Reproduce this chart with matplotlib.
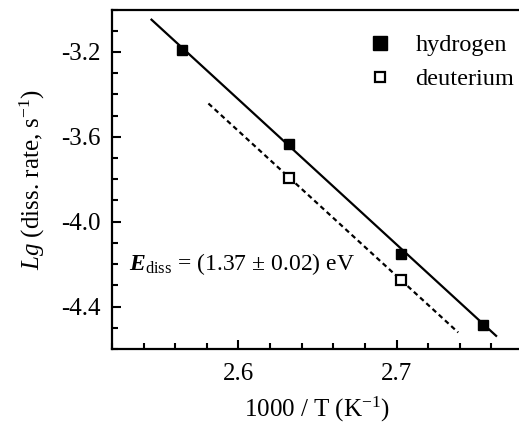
import matplotlib
matplotlib.use("Agg")
import matplotlib.pyplot as plt
from matplotlib.ticker import MultipleLocator, FormatStrFormatter
from matplotlib.lines import Line2D

plt.rcParams['font.family'] = ['Liberation Serif', 'DejaVu Serif']
plt.rcParams['mathtext.fontset'] = 'custom'
plt.rcParams['mathtext.rm'] = 'Liberation Serif'
plt.rcParams['mathtext.it'] = 'Liberation Serif:italic'
plt.rcParams['mathtext.bf'] = 'Liberation Serif:bold:italic'
plt.rcParams['axes.unicode_minus'] = False

# Data
h_x = [2.564, 2.632, 2.703, 2.755]
h_y = [-3.192, -3.636, -4.152, -4.489]
d_x = [2.632, 2.703]
d_y = [-3.796, -4.274]
h_fit_x = [2.545, 2.763]
h_fit_y = [-3.048, -4.538]
d_fit_x = [2.581, 2.739]
d_fit_y = [-3.443, -4.522]
labels = ["hydrogen", "deuterium"]
annotation = r"$\mathbf{E}_{\mathrm{diss}}$ = (1.37 ± 0.02) eV"

W, H = 519, 426
fig = plt.figure(figsize=(W / 100, H / 100), dpi=100)
ax = fig.add_axes([112 / W, (H - 349) / H, 411 / W, 339.5 / H])

ax.plot(h_fit_x, h_fit_y, color='black', lw=1.6)
ax.plot(d_fit_x, d_fit_y, color='black', lw=1.6, ls=(0, (2.2, 1.6)))
ax.plot(h_x, h_y, ls='none', marker='s', ms=7.5, color='black')
ax.plot(d_x, d_y, ls='none', marker='s', ms=7, mfc='white', mec='black', mew=1.6)

ax.set_xlim(2.52, 2.78)
ax.set_ylim(-4.6, -3.0)
ax.xaxis.set_major_locator(MultipleLocator(0.1))
ax.xaxis.set_minor_locator(MultipleLocator(0.02))
ax.yaxis.set_major_locator(MultipleLocator(0.4))
ax.yaxis.set_minor_locator(MultipleLocator(0.1))
ax.xaxis.set_major_formatter(FormatStrFormatter('%.1f'))
ax.yaxis.set_major_formatter(FormatStrFormatter('%.1f'))
ax.tick_params(which='both', direction='in', width=1.5, labelsize=18,
               top=False, right=False)
ax.tick_params(which='major', length=6.5, pad=8)
ax.tick_params(which='minor', length=4)
ax.tick_params(axis='x', which='major', pad=10)
ax.spines['right'].set_visible(False)
for s in ['left', 'bottom', 'top']:
    ax.spines[s].set_linewidth(1.6)

ax.set_xlabel(r"1000 / T (K$^{-1}$)", fontsize=18, labelpad=7)
ax.set_ylabel(r"$\mathit{Lg}$ (diss. rate, s$^{-1}$)", fontsize=18, labelpad=10)

ax.text(2.531, -4.2, annotation, fontsize=17, va='center', ha='left')

handles = [
    Line2D([], [], ls='none', marker='s', ms=9.5, color='black'),
    Line2D([], [], ls='none', marker='s', ms=7, mfc='white', mec='black', mew=1.6),
]
ax.legend(handles, labels, loc='upper left', bbox_to_anchor=(368 / W, 1 - 34 / H),
          bbox_transform=fig.transFigure, frameon=False, fontsize=17.5,
          handletextpad=0.95, labelspacing=0.5, borderpad=0, borderaxespad=0,
          handlelength=1.0)

fig.savefig("out.png", dpi=100)
